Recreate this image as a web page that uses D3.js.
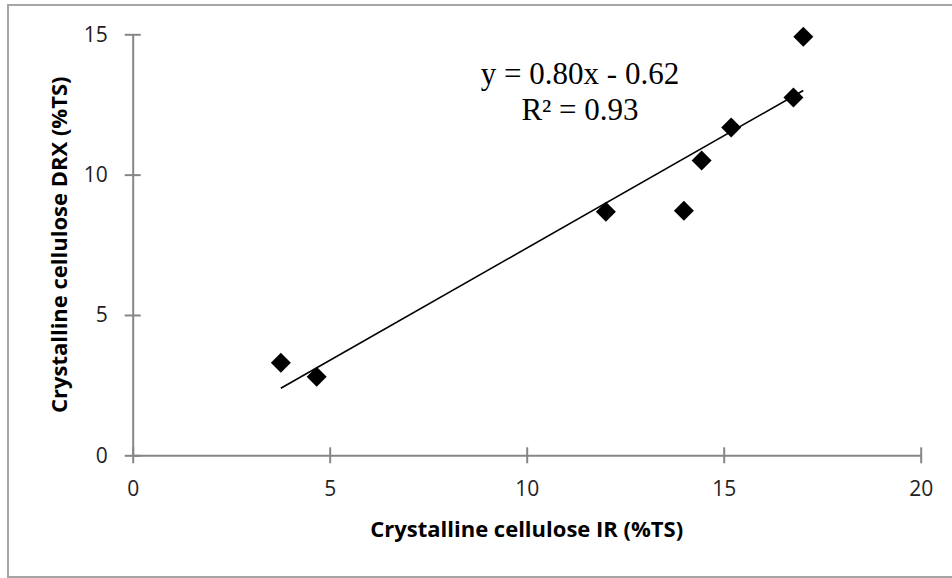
<!DOCTYPE html>
<html>
<head>
	<meta charset="utf-8">
	<style>
		body {
			margin: 0;
			background: #fff;
		}
		.axis path, .axis line {
			stroke: #868686;
			stroke-width: 2px;
		}
		.axis text {
			font-family: 'Open Sans', sans-serif;
			font-size: 21px;
			fill: #222;
		}
		.title {
			font-family: 'Open Sans', sans-serif;
			font-size: 22px;
			font-weight: bold;
			fill: #000;
			text-anchor: middle;
		}
		.eq {
			font-family: 'Liberation Serif', 'Times New Roman', serif;
			font-size: 31px;
			fill: #000;
			text-anchor: middle;
		}
	</style>
	<script src="https://d3js.org/d3.v7.min.js"></script>
</head>
<body>
	<script>
		// data
		var ir_values  = [3.76, 4.67, 12.01, 13.99, 14.44, 15.19, 16.77, 17.02];
		var drx_values = [3.30, 2.80, 8.68, 8.71, 10.50, 11.68, 12.75, 14.91];
		var x_ticks = [0, 5, 10, 15, 20];
		var y_ticks = [0, 5, 10, 15];
		var trend_slope = 0.80,
			trend_intercept = -0.62;
		var eq_lines = ['y = 0.80x - 0.62', 'R² = 0.93'];

		var width = 952,
			height = 578,
			margin = {top: 34.3, right: 31.3, bottom: 122.7, left: 132.7},
			plot_w = width - margin.left - margin.right,
			plot_h = height - margin.top - margin.bottom;

		var svg = d3.select('body').append('svg')
			.attr('width', width)
			.attr('height', height);

		// chart frame
		svg.append('rect')
			.attr('x', 8)
			.attr('y', 5)
			.attr('width', 960)
			.attr('height', 572)
			.attr('fill', 'none')
			.attr('stroke', '#a6a6a6')
			.attr('stroke-width', 2);

		var g = svg.append('g')
			.attr('transform', 'translate(' + margin.left + ',' + margin.top + ')');

		var scale_x = d3.scaleLinear().domain([0, 20]).range([0, plot_w]);
		var scale_y = d3.scaleLinear().domain([0, 15]).range([plot_h, 0]);

		// axes, ticks crossing the line like excel
		var axis_x = d3.axisBottom(scale_x)
			.tickValues(x_ticks)
			.tickSizeInner(8)
			.tickSizeOuter(0)
			.tickPadding(18);

		var gx = g.append('g')
			.attr('class', 'axis x')
			.attr('transform', 'translate(0,' + plot_h + ')')
			.call(axis_x);
		gx.selectAll('.tick line').attr('y1', -8);

		var axis_y = d3.axisLeft(scale_y)
			.tickValues(y_ticks)
			.tickSizeInner(8)
			.tickSizeOuter(0)
			.tickPadding(17);

		var gy = g.append('g')
			.attr('class', 'axis y')
			.call(axis_y);
		gy.selectAll('.tick line').attr('x1', 8);

		// trend line over the range of the data
		var x_ext = d3.extent(ir_values);
		g.append('line')
			.attr('x1', scale_x(x_ext[0]))
			.attr('y1', scale_y(trend_slope * x_ext[0] + trend_intercept))
			.attr('x2', scale_x(x_ext[1]))
			.attr('y2', scale_y(trend_slope * x_ext[1] + trend_intercept))
			.attr('stroke', '#000')
			.attr('stroke-width', 1.6);

		// points
		var points = ir_values.map((d, i) => ({x: d, y: drx_values[i]}));
		var diamond = d3.symbol().type(d3.symbolSquare).size(200);
		g.selectAll('.pt')
			.data(points)
			.enter()
			.append('path')
			.attr('class', 'pt')
			.attr('d', diamond)
			.attr('fill', '#000')
			.attr('transform', d => 'translate(' + scale_x(d.x) + ',' + scale_y(d.y) + ') rotate(45)');

		// equation
		svg.selectAll('.eq')
			.data(eq_lines)
			.enter()
			.append('text')
			.attr('class', 'eq')
			.attr('x', 580)
			.attr('y', (d, i) => 84 + i * 36)
			.text(d => d);

		// axis titles
		svg.append('text')
			.attr('class', 'title')
			.attr('x', margin.left + plot_w / 2)
			.attr('y', 537)
			.text('Crystalline cellulose IR (%TS)');

		svg.append('text')
			.attr('class', 'title')
			.attr('transform', 'translate(67,' + (margin.top + plot_h / 2) + ') rotate(-90)')
			.text('Crystalline cellulose DRX (%TS)');
	</script>
</body>
</html>
